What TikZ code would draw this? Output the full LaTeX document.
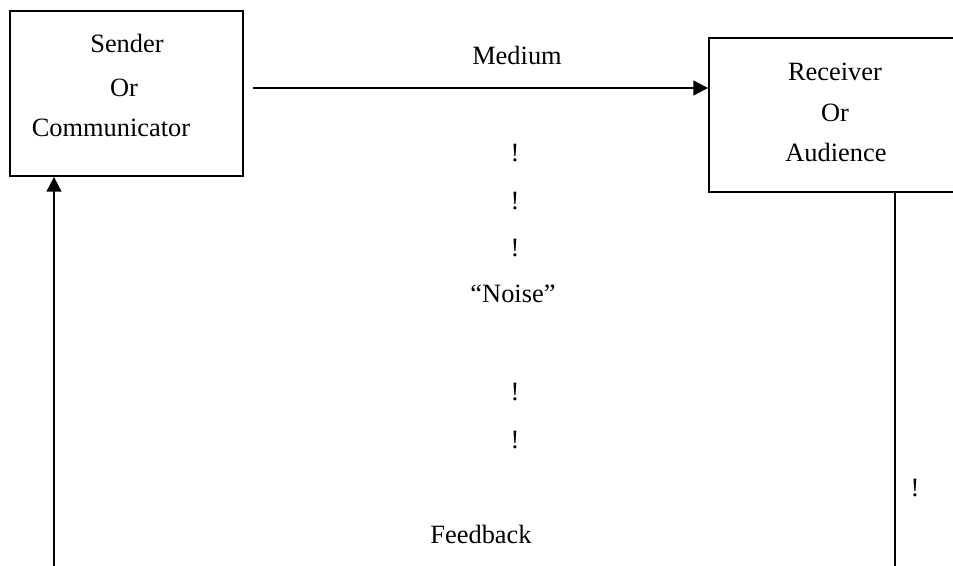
\documentclass[tikz,border=0pt]{standalone}
\usepackage{fontspec}
\setmainfont{Liberation Serif}
\usetikzlibrary{arrows.meta}
\tikzset{
  lbl/.style={anchor=base, inner sep=0pt, font=\fontsize{19.8}{24}\selectfont},
  boxnode/.style={draw, line width=1.4pt, inner sep=0pt, rectangle},
  conn/.style={line width=1.6pt},
  tip/.style={-{Triangle[length=11pt,width=11pt]}}
}
\begin{document}
\begin{tikzpicture}[x=0.75pt, y=-0.75pt]
\useasboundingbox (0,0) rectangle (953,566);
\begin{scope}
\clip (0,0) rectangle (953,566);
% boxes
\node[boxnode, minimum width=174.75pt, minimum height=123.75pt] (sender) at (126.5,93.5) {};
\node[boxnode, minimum width=189pt, minimum height=115.5pt] (receiver) at (835,115) {};
% box texts
\node[lbl] (s1) at (127,53) {Sender};
\node[lbl] (s2) at (124,97) {Or};
\node[lbl] (s3) at (111,137) {Communicator};
\node[lbl] (r1) at (835,81) {Receiver};
\node[lbl] (r2) at (835,122) {Or};
\node[lbl] (r3) at (836,162) {Audience};
% medium
\coordinate (mstart) at (253,88);
\draw[conn, tip] (mstart) -- (receiver.west |- mstart);
\node[lbl] (medium) at (517,65) {Medium};
% noise
\node[lbl] (n1) at (515,162) {!};
\node[lbl] (n2) at (515,210) {!};
\node[lbl] (n3) at (515,257) {!};
\node[lbl] (noise) at (513,303) {“Noise”};
\node[lbl] (n4) at (515,401) {!};
\node[lbl] (n5) at (515,448) {!};
\node[lbl] (fb) at (481,543) {Feedback};
\node[lbl] (n6) at (915,496) {!};
% feedback lines
\coordinate (rdown) at (895,566);
\draw[conn] (receiver.south -| rdown) -- (rdown);
\coordinate (fstart) at (54,566);
\draw[conn, tip] (fstart) -- (sender.south -| fstart);
\end{scope}
\end{tikzpicture}
\end{document}
